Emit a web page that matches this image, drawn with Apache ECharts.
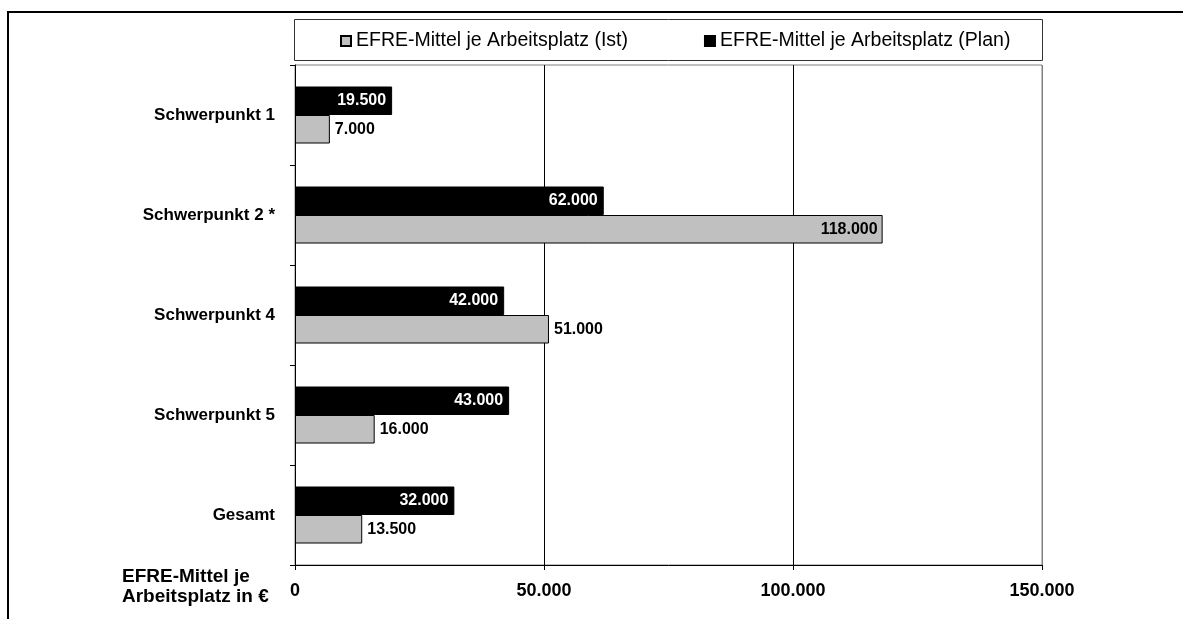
<!DOCTYPE html>
<html>
<head>
<meta charset="utf-8">
<title>EFRE-Mittel je Arbeitsplatz</title>
<script src="https://cdn.jsdelivr.net/npm/echarts@6/dist/echarts.min.js"></script>
<style>
  html, body { margin: 0; padding: 0; background: #fff; }
  #chart { width: 1183px; height: 619px; }
</style>
</head>
<body>
<div id="chart"></div>
<script>
// Daten
var kategorien = ['Schwerpunkt 1', 'Schwerpunkt 2 *', 'Schwerpunkt 4', 'Schwerpunkt 5', 'Gesamt'];
var istWerte = [7000, 118000, 51000, 16000, 13500];
var planWerte = [19500, 62000, 42000, 43000, 32000];
var achsenWerte = [0, 50000, 100000, 150000];
var serienNamen = ['EFRE-Mittel je Arbeitsplatz (Ist)', 'EFRE-Mittel je Arbeitsplatz (Plan)'];
var achsenTitel = 'EFRE-Mittel je\nArbeitsplatz in €';

var schrift = '"Liberation Sans", Arial, sans-serif';

// 19500 -> "19.500"
function tausender(v) {
  return String(v).replace(/\B(?=(\d{3})+(?!\d))/g, '.');
}

var chartDom = document.getElementById('chart');
var myChart = echarts.init(chartDom, null, {renderer: 'canvas'});

var maxWert = achsenWerte[achsenWerte.length - 1];

// lange graue Balken bekommen die Beschriftung innen
var istDaten = istWerte.map(function (v) {
  if (v > maxWert * 0.6) {
    return {value: v, label: {position: 'insideRight'}};
  }
  return v;
});

var option = {
  animation: false,
  backgroundColor: '#fff',
  textStyle: {fontFamily: schrift},
  title: {
    text: achsenTitel,
    left: 122,
    top: 567,
    padding: 0,
    textStyle: {fontFamily: schrift, fontSize: 19, fontWeight: 'bold', color: '#000', lineHeight: 20}
  },
  legend: {
    data: serienNamen,
    left: 340,
    top: 31,
    padding: 0,
    itemWidth: 10,
    itemHeight: 10,
    itemGap: 76,
    icon: 'rect',
    textStyle: {fontFamily: schrift, fontSize: 19.5, color: '#000', lineHeight: 20}
  },
  grid: {
    left: 295,
    right: 141,
    top: 65,
    bottom: 54,
    show: true,
    borderColor: '#808080',
    borderWidth: 1,
    backgroundColor: 'transparent'
  },
  xAxis: {
    type: 'value',
    min: achsenWerte[0],
    max: maxWert,
    interval: achsenWerte[1] - achsenWerte[0],
    axisLine: {show: true, lineStyle: {color: '#000', width: 1}},
    axisTick: {show: true, length: 5, lineStyle: {color: '#000'}},
    axisLabel: {
      margin: 17,
      fontFamily: schrift,
      fontSize: 18,
      fontWeight: 'bold',
      color: '#000',
      formatter: tausender
    },
    splitLine: {show: true, lineStyle: {color: ['#000', '#000', '#000', '#808080'], width: 1}}
  },
  yAxis: {
    type: 'category',
    inverse: true,
    data: kategorien,
    axisLine: {show: true, lineStyle: {color: '#000', width: 1}},
    axisTick: {show: true, length: 5, lineStyle: {color: '#000'}},
    axisLabel: {
      margin: 20,
      fontFamily: schrift,
      fontSize: 17,
      fontWeight: 'bold',
      color: '#000'
    },
    splitLine: {show: false}
  },
  series: [
    {
      name: serienNamen[1],
      type: 'bar',
      data: planWerte,
      barGap: '0%',
      barCategoryGap: '43%',
      itemStyle: {color: '#000', borderColor: '#000', borderWidth: 1},
      label: {
        show: true,
        position: 'insideRight',
        distance: 6,
        color: '#fff',
        fontFamily: schrift,
        fontSize: 16,
        fontWeight: 'bold',
        formatter: function (p) { return tausender(p.value); }
      }
    },
    {
      name: serienNamen[0],
      type: 'bar',
      data: istDaten,
      barGap: '0%',
      barCategoryGap: '43%',
      itemStyle: {color: '#c0c0c0', borderColor: '#000', borderWidth: 1},
      label: {
        show: true,
        position: 'right',
        distance: 5,
        color: '#000',
        fontFamily: schrift,
        fontSize: 16,
        fontWeight: 'bold',
        formatter: function (p) { return tausender(p.value); }
      }
    }
  ],
  graphic: [
    // äußerer Rahmen (oben und links)
    {type: 'line', silent: true, shape: {x1: 7, y1: 12, x2: 1183, y2: 12}, style: {stroke: '#000', lineWidth: 2}},
    {type: 'line', silent: true, shape: {x1: 8, y1: 11, x2: 8, y2: 619}, style: {stroke: '#000', lineWidth: 2}},
    // Kasten um die Legende
    {type: 'rect', silent: true, z: -1, shape: {x: 294.5, y: 19.5, width: 748, height: 41}, style: {fill: 'none', stroke: '#333', lineWidth: 1}}
  ]
};

option && myChart.setOption(option);
</script>
</body>
</html>
